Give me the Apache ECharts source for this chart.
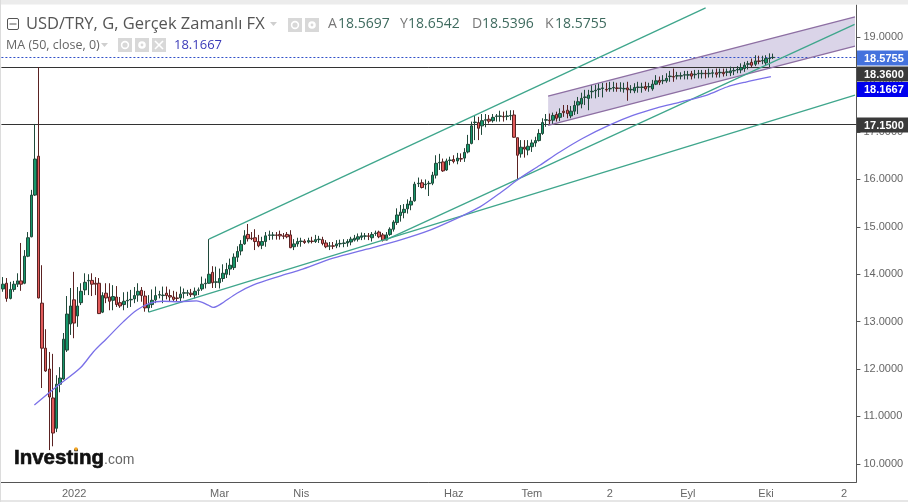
<!DOCTYPE html>
<html>
<head>
<meta charset="utf-8">
<title>USD/TRY</title>
<script src="https://cdn.jsdelivr.net/npm/echarts@6/dist/echarts.min.js"></script>
<style>
html,body{margin:0;padding:0;background:#fff;}
#main{width:908px;height:502px;}
</style>
</head>
<body>
<div id="main"></div>
<script>
// daily bars
var opens = [
13.69,13.81,13.49,13.68,13.79,13.86,13.81,14.38,14.79,15.67,
16.49,13.39,12.44,12.00,11.39,10.75,11.68,11.79,12.40,12.95,
13.46,13.12,13.40,13.67,13.86,13.87,13.81,13.81,13.20,13.60,
13.52,13.45,13.52,13.40,13.36,13.44,13.46,13.48,13.56,13.66,
13.54,13.29,13.36,13.46,13.56,13.55,13.60,13.55,13.52,13.50,
13.50,13.60,13.60,13.60,13.56,13.66,13.69,13.80,13.81,14.04,
13.83,13.82,13.91,14.00,14.11,14.14,14.36,14.49,14.64,14.84,
14.76,14.77,14.69,14.61,14.69,14.82,14.82,14.83,14.84,14.81,
14.84,14.83,14.58,14.64,14.69,14.70,14.68,14.70,14.69,14.73,
14.73,14.66,14.59,14.60,14.60,14.64,14.65,14.66,14.68,14.72,
14.74,14.78,14.80,14.81,14.77,14.86,14.89,14.83,14.72,14.84,
14.95,15.09,15.24,15.30,15.38,15.46,15.55,15.91,15.93,15.89,
15.91,15.92,16.09,16.35,16.37,16.20,16.40,16.42,16.39,16.44,
16.45,16.58,16.76,17.20,17.20,17.13,17.25,17.27,17.24,17.33,
17.33,17.33,17.33,17.34,17.36,16.88,16.54,16.68,16.62,16.69,
16.77,16.82,16.97,17.25,17.25,17.25,17.37,17.31,17.44,17.46,
17.34,17.44,17.57,17.59,17.73,17.71,17.85,17.87,17.90,17.92,
17.90,17.91,17.93,17.93,17.92,17.91,17.93,17.89,17.87,17.94,
17.94,17.96,17.95,17.91,18.01,18.09,18.08,18.08,18.17,18.17,
18.18,18.18,18.20,18.20,18.23,18.21,18.23,18.23,18.24,18.23,
18.24,18.25,18.25,18.26,18.26,18.25,18.29,18.31,18.31,18.34,
18.43,18.47,18.43,18.50,18.50,18.46,18.55,18.5697];
var closes = [
13.79,13.49,13.68,13.79,13.86,13.79,14.38,14.77,15.67,16.43,
13.50,12.44,11.96,11.41,10.65,11.68,11.81,12.63,13.16,13.33,
12.97,13.33,13.64,13.83,13.87,13.79,13.79,13.17,13.55,13.50,
13.43,13.53,13.36,13.33,13.43,13.45,13.47,13.55,13.64,13.55,
13.29,13.36,13.45,13.55,13.57,13.56,13.55,13.52,13.47,13.49,
13.58,13.61,13.61,13.57,13.64,13.67,13.79,13.81,14.00,13.82,
13.84,13.91,14.02,14.10,14.19,14.36,14.48,14.63,14.81,14.75,
14.75,14.69,14.60,14.69,14.81,14.83,14.83,14.82,14.81,14.80,
14.79,14.56,14.64,14.69,14.70,14.67,14.71,14.69,14.73,14.74,
14.65,14.58,14.60,14.59,14.64,14.65,14.66,14.69,14.74,14.76,
14.79,14.81,14.81,14.80,14.84,14.87,14.79,14.72,14.83,14.95,
15.10,15.25,15.31,15.37,15.48,15.54,15.90,15.92,15.83,15.90,
15.92,16.09,16.34,16.36,16.18,16.39,16.41,16.38,16.45,16.43,
16.57,16.74,17.13,17.21,17.08,17.24,17.26,17.23,17.31,17.34,
17.34,17.32,17.34,17.35,16.89,16.51,16.68,16.64,16.70,16.77,
16.82,16.97,17.20,17.26,17.24,17.35,17.29,17.39,17.41,17.39,
17.44,17.56,17.64,17.71,17.74,17.78,17.86,17.88,17.91,17.93,
17.89,17.92,17.94,17.92,17.93,17.92,17.89,17.90,17.94,17.95,
17.95,17.91,17.96,18.01,18.08,18.05,18.09,18.13,18.18,18.16,
18.19,18.19,18.21,18.21,18.18,18.22,18.24,18.24,18.23,18.24,
18.25,18.22,18.26,18.23,18.27,18.29,18.30,18.32,18.36,18.41,
18.44,18.41,18.50,18.49,18.51,18.55,18.56,18.5755];
var highs = [
13.94,13.92,13.84,13.86,14.02,14.66,14.51,14.89,15.78,17.17,
18.37,14.19,12.84,12.36,12.32,11.87,12.04,12.76,13.54,13.71,
14.05,13.73,13.81,14.02,14.00,14.02,13.94,13.92,13.62,13.81,
13.81,13.77,13.75,13.52,13.62,13.63,13.67,13.73,13.81,13.73,
13.65,13.56,13.68,13.74,13.65,13.74,13.74,13.68,13.65,13.63,
13.74,13.70,13.67,13.69,13.72,13.72,13.95,13.91,14.74,14.17,
14.16,14.12,14.21,14.24,14.33,14.44,14.59,14.72,14.93,15.06,
14.89,14.95,14.83,14.79,14.89,14.92,14.89,14.89,14.92,14.87,
14.89,14.93,14.74,14.77,14.77,14.74,14.77,14.79,14.83,14.81,
14.79,14.72,14.68,14.68,14.72,14.73,14.74,14.74,14.79,14.83,
14.86,14.88,14.87,14.87,14.89,14.92,14.92,14.87,14.89,14.99,
15.14,15.39,15.46,15.48,15.58,15.63,15.95,16.04,16.00,16.00,
15.97,16.16,16.51,16.54,16.44,16.44,16.48,16.51,16.56,16.55,
16.66,16.94,17.22,17.34,17.32,17.38,17.38,17.36,17.38,17.38,
17.45,17.43,17.45,17.46,17.46,16.88,16.83,16.83,16.83,16.84,
16.90,17.06,17.29,17.38,17.39,17.41,17.43,17.50,17.57,17.57,
17.55,17.66,17.74,17.83,17.89,17.89,17.99,18.00,18.03,18.04,
18.04,18.06,18.06,18.04,18.05,18.04,18.06,17.99,18.03,18.06,
18.04,18.06,18.04,18.10,18.20,18.17,18.20,18.24,18.29,18.34,
18.27,18.26,18.29,18.29,18.29,18.31,18.31,18.31,18.31,18.34,
18.32,18.34,18.34,18.34,18.34,18.38,18.36,18.39,18.45,18.48,
18.50,18.55,18.62,18.61,18.61,18.62,18.66,18.6542];
var lows = [
13.63,13.42,13.47,13.63,13.73,13.65,13.79,14.36,14.78,15.65,
13.49,11.60,11.94,10.29,10.37,10.67,11.51,11.77,12.36,12.72,
12.65,12.89,13.35,13.56,13.56,13.54,13.56,13.16,13.18,13.39,
13.24,13.24,13.31,13.29,13.24,13.29,13.31,13.39,13.42,13.42,
13.21,13.20,13.29,13.39,13.49,13.39,13.47,13.42,13.42,13.42,
13.42,13.49,13.54,13.52,13.49,13.56,13.65,13.70,13.80,13.71,
13.71,13.70,13.84,13.92,13.98,14.09,14.26,14.40,14.62,14.69,
14.72,14.51,14.57,14.53,14.58,14.72,14.73,14.73,14.73,14.74,
14.76,14.55,14.51,14.58,14.58,14.64,14.65,14.65,14.66,14.66,
14.61,14.55,14.51,14.53,14.55,14.57,14.57,14.58,14.61,14.69,
14.69,14.72,14.73,14.72,14.69,14.81,14.76,14.69,14.73,14.81,
14.90,15.04,15.11,15.18,15.28,15.35,15.53,15.84,15.81,15.79,
15.65,15.88,16.02,16.20,16.16,16.18,16.30,16.34,16.32,16.37,
16.37,16.55,16.74,16.83,16.83,16.94,17.10,17.18,17.20,17.22,
17.22,17.22,17.25,17.25,16.88,16.00,16.46,16.46,16.51,16.58,
16.69,16.80,16.94,17.11,17.15,17.15,17.22,17.23,17.32,17.29,
17.29,17.36,17.38,17.50,17.57,17.46,17.71,17.71,17.74,17.73,
17.85,17.85,17.85,17.85,17.85,17.83,17.66,17.82,17.82,17.83,
17.83,17.87,17.85,17.87,17.99,17.99,18.01,18.04,18.06,18.06,
18.11,18.11,18.11,18.11,18.11,18.13,18.13,18.13,18.13,18.15,
18.15,18.15,18.15,18.17,18.18,18.18,18.20,18.24,18.24,18.27,
18.32,18.37,18.39,18.43,18.43,18.41,18.34,18.5396];

// MA(50) read at a number of bar positions
var maBars = [8.8,15.1,21.7,25.4,29,33.9,37.6,41.4,45.1,49.8,54.5,57.8,59.2,61.1,65.9,70.4,78,83.7,93,102.5,111.8,120.3,128.8,134.4,140,145.7,151.3,156.9,163.4,171,177.5,184.3,190.8,198.4,204,209.1,216.4];
var maValues = [11.24,11.63,12.02,12.36,12.63,13.00,13.24,13.39,13.43,13.42,13.44,13.35,13.30,13.36,13.60,13.77,13.96,14.09,14.34,14.53,14.72,14.93,15.21,15.42,15.71,16.03,16.30,16.58,16.87,17.15,17.35,17.51,17.63,17.78,17.95,18.05,18.1667];

// trend lines: start bar, end bar, start price, end price
var upperBars = [58,198], upperPrices = [14.74,19.62];
var lowerBars = [41,240.1], lowerPrices = [13.20,17.78];
var steepBars = [108,240], steepPrices = [14.73,19.27];
var channelBars = [153.6,240.1];
var channelTop = [17.76,19.43];
var channelBottom = [17.14,18.81];

var levelLines = [18.36,17.15];
var lastPrice = 18.5755;
var yTicks = [10,11,12,13,14,15,16,17,18,19];
var xTickBars = [20,61,84,127,149,171,193,215,237];
var xTickLabels = ['2022','Mar','Nis','Haz','Tem','2','Eyl','Eki','2'];
var slotCount = 241;

var categories = [];
for (var i = 0; i < slotCount; i++) {
	var k = xTickBars.indexOf(i);
	categories.push(k >= 0 ? xTickLabels[k] : '');
}
var candles = opens.map(function (o, i) {
	return [o, closes[i], lows[i], highs[i]];
});
function pairs(xs, ys) {
	return xs.map(function (x, i) { return [x, ys[i]]; });
}
function showTick(index) {
	return xTickBars.indexOf(index) >= 0;
}
function trendLine(xs, ys, color) {
	return {
		type: 'line', xAxisIndex: 1, data: pairs(xs, ys), symbol: 'none', z: 4,
		lineStyle: { color: color, width: 1.3 }, silent: true
	};
}
// horizontal level, snapped to a pixel row so it stays crisp
function levelLine(v, color, dash) {
	return {
		type: 'custom', xAxisIndex: 1, z: 3, silent: true, data: [0],
		renderItem: function (params, api) {
			var a = api.coord([-0.5, v]);
			var b = api.coord([slotCount - 0.5, v]);
			var y = Math.floor(a[1]) + 0.5;
			return { type: 'line', shape: { x1: a[0], y1: y, x2: b[0], y2: y }, style: { stroke: color, lineWidth: 1, lineDash: dash } };
		}
	};
}

var font = '"Liberation Sans", Arial, sans-serif';
var headFont = '"Open Sans", sans-serif';
function txt(x, y, s, size, color, weight, family, align) {
	return {
		type: 'text', x: x, y: y, z: 100,
		style: { text: s, fontSize: size, fill: color, fontWeight: weight || 'normal', fontFamily: family || font, align: align || 'left', verticalAlign: 'middle' }
	};
}
function box(x, y, w, h, color) {
	return { type: 'rect', z: 90, shape: { x: x, y: y, width: w, height: h }, style: { fill: color } };
}
function tri(x, y) {
	return { type: 'polygon', z: 100, shape: { points: [[x, y], [x + 7, y], [x + 3.5, y + 4]] }, style: { fill: '#cfcfcf' } };
}
function eye(x, y) {
	return [box(x, y, 14, 14, '#d8d8d8'), { type: 'circle', z: 95, shape: { cx: x + 7, cy: y + 7, r: 3.4 }, style: { fill: 'none', stroke: '#fff', lineWidth: 1.6 } }];
}
function gear(x, y) {
	return [box(x, y, 14, 14, '#d8d8d8'), { type: 'circle', z: 95, shape: { cx: x + 7, cy: y + 7, r: 3.8 }, style: { fill: '#fff' } }, { type: 'circle', z: 96, shape: { cx: x + 7, cy: y + 7, r: 1.4 }, style: { fill: '#d8d8d8' } }];
}
function cross(x, y) {
	return [box(x, y, 14, 14, '#d8d8d8'),
		{ type: 'line', z: 95, shape: { x1: x + 3, y1: y + 3, x2: x + 11, y2: y + 11 }, style: { stroke: '#fff', lineWidth: 1.6 } },
		{ type: 'line', z: 95, shape: { x1: x + 11, y1: y + 3, x2: x + 3, y2: y + 11 }, style: { stroke: '#fff', lineWidth: 1.6 } }];
}
function tag(y, h, color, s) {
	return [box(857, y, 51, h, color), txt(864, y + h / 2 + 0.5, s, 11, '#fff', 'bold')];
}
function ohlc(x, letter, digitsX, digits) {
	return [txt(x, 24.5, letter, 14, '#777', 'normal', headFont), txt(digitsX, 24.5, digits, 14, '#3e6a5e', 'normal', headFont)];
}

var graphics = [
	box(0, 0, 908, 4.5, '#ececec'),
	box(0, 500, 908, 2, '#e6e6e6'),
	box(0, 0, 1, 502, '#dcdcdc'),
	{ type: 'rect', z: 100, shape: { x: 7.5, y: 18.5, width: 11, height: 11, r: 1.5 }, style: { fill: 'none', stroke: '#555', lineWidth: 1 } },
	{ type: 'line', z: 100, shape: { x1: 9.5, y1: 24, x2: 16.5, y2: 24 }, style: { stroke: '#555', lineWidth: 1 } },
	txt(26, 24.5, 'USD/TRY, G, Gerçek Zamanlı FX', 16.5, '#555', 'normal', headFont),
	tri(270, 22),
	txt(6, 45, 'MA (50, close, 0)', 12.5, '#666', 'normal', headFont),
	tri(101, 43),
	txt(174, 45, '18.1667', 13, '#3a3ab8', 'normal', headFont),
	{ type: 'text', x: 14, y: 458, z: 100, style: { text: 'Investing', fontSize: 20.5, fill: '#111', stroke: '#111', lineWidth: 0.6, fontWeight: 'bold', fontFamily: font, verticalAlign: 'middle' } },
	txt(104, 460, '.com', 14, '#666'),
	{ type: 'circle', z: 101, shape: { cx: 76, cy: 449, r: 1.8 }, style: { fill: '#f5a623' } }
].concat(eye(288, 18), gear(305, 18), eye(118, 38), gear(135, 38), cross(152, 38),
	ohlc(328, 'A', 338, '18.5697'),
	ohlc(400, 'Y', 408, '18.6542'),
	ohlc(472, 'D', 482, '18.5396'),
	ohlc(545, 'K', 555, '18.5755'),
	tag(50.5, 15, '#4472dd', '18.5755'),
	tag(66.5, 15, '#3a3a3a', '18.3600'),
	tag(82, 15, '#0000ee', '18.1667'),
	tag(117.5, 15, '#3a3a3a', '17.1500'));

var chart = echarts.init(document.getElementById('main'));
var option = {
	animation: false,
	backgroundColor: '#fff',
	grid: { left: 1.4, right: 51.6, top: 5, bottom: 20 },
	xAxis: [{
		type: 'category',
		data: categories,
		boundaryGap: true,
		axisLine: { onZero: false, lineStyle: { color: '#555', width: 1 } },
		axisTick: { alignWithLabel: true, length: 4, interval: showTick, lineStyle: { color: '#555' } },
		axisLabel: { interval: showTick, color: '#666', fontSize: 11, fontFamily: font, margin: 6 },
		splitLine: { show: false }
	}, {
		type: 'value', min: -0.5, max: slotCount - 0.5, show: false, splitLine: { show: false }
	}],
	yAxis: {
		type: 'value',
		position: 'right',
		min: 9.617,
		max: 19.68,
		axisLine: { show: true, onZero: false, lineStyle: { color: '#555', width: 1 } },
		axisTick: { show: true, length: 4, customValues: yTicks, lineStyle: { color: '#555' } },
		axisLabel: {
			customValues: yTicks, color: '#666', fontSize: 11, fontFamily: font, margin: 7, padding: [4, 0, 0, 0],
			formatter: function (v) { return Number(v).toFixed(4); }
		},
		splitLine: { show: false }
	},
	graphic: graphics,
	series: [{
		// channel fill
		type: 'custom',
		xAxisIndex: 1,
		z: 1,
		silent: true,
		data: [0],
		renderItem: function (params, api) {
			var pts = [
				api.coord([channelBars[0], channelTop[0]]),
				api.coord([channelBars[1], channelTop[1]]),
				api.coord([channelBars[1], channelBottom[1]]),
				api.coord([channelBars[0], channelBottom[0]])
			];
			return { type: 'polygon', shape: { points: pts }, style: { fill: '#dad4e8' } };
		}
	},
	trendLine(channelBars, channelTop, '#8d6fa3'),
	trendLine(channelBars, channelBottom, '#8d6fa3'),
	levelLine(lastPrice, '#2f4fc8', [2, 2]),
	levelLine(levelLines[0], '#333', null),
	levelLine(levelLines[1], '#333', null),
	{
		type: 'candlestick',
		data: candles,
		barWidth: 3,
		z: 3,
		itemStyle: { color: '#16976a', color0: '#e25b5b', borderColor: '#20493a', borderColor0: '#5a2222', borderWidth: 1 }
	},
	trendLine(upperBars, upperPrices, '#3fa68c'),
	trendLine(lowerBars, lowerPrices, '#3fa68c'),
	trendLine(steepBars, steepPrices, '#3fa68c'),
	{
		type: 'line', xAxisIndex: 1, data: pairs(maBars, maValues), symbol: 'none', z: 4, silent: true, smooth: 0.3,
		lineStyle: { color: '#7a70e8', width: 1.3 }
	}]
};
chart.setOption(option);
</script>
</body>
</html>
